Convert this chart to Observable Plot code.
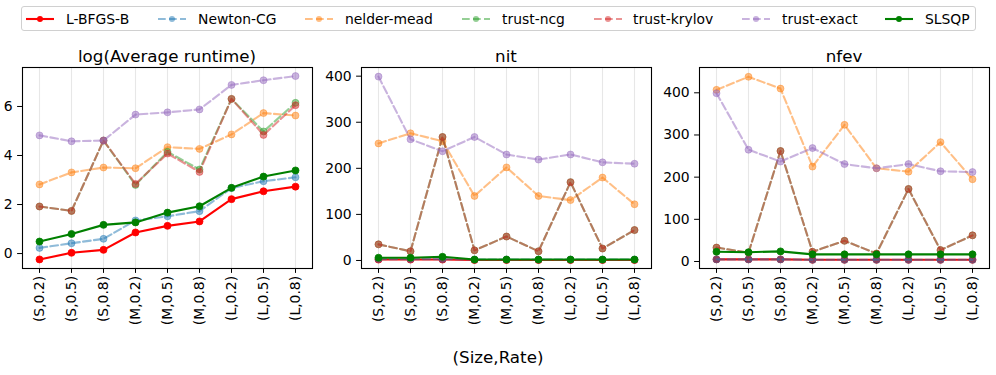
<!DOCTYPE html>
<html><head><meta charset="utf-8">
<script src="https://cdn.jsdelivr.net/npm/d3@7"></script>
<script src="https://cdn.jsdelivr.net/npm/@observablehq/plot@0.6"></script>
<style>
html,body{margin:0;padding:0;background:#fff;overflow:hidden;}
#root{position:relative;width:996px;height:375px;font-family:"DejaVu Sans",sans-serif;color:#000;}
.title{position:absolute;font-size:16.7px;line-height:20px;text-align:center;width:290px;white-space:nowrap;}
.panel{position:absolute;top:60px;}
.legend{position:absolute;left:21px;top:6px;width:953px;height:23px;border:1px solid #d0d0d0;border-radius:3px;}
.ltext{position:absolute;top:11px;font-size:13.9px;line-height:16px;white-space:nowrap;}
.lsw{position:absolute;top:13px;}
.xlabel{position:absolute;left:398px;width:200px;top:347px;font-size:16.7px;line-height:20px;text-align:center;}
</style></head><body><div id="root"></div>
<script>
const categories = ["(S,0.2)","(S,0.5)","(S,0.8)","(M,0.2)","(M,0.5)","(M,0.8)","(L,0.2)","(L,0.5)","(L,0.8)"];
const methods = ["L-BFGS-B","Newton-CG","nelder-mead","trust-ncg","trust-krylov","trust-exact","SLSQP"];
const colors = ["#ff0000","#1f77b4","#ff7f0e","#2ca02c","#d62728","#9467bd","#008000"];
const dashed = [false,true,true,true,true,true,false];
const alphas = [1,0.5,0.5,0.5,0.5,0.5,1];
const panelTitles = ["log(Average runtime)","nit","nfev"];

// rows follow the order of `methods`
const logRuntime = [
  [-0.24,0.03,0.15,0.86,1.13,1.31,2.22,2.54,2.73],
  [0.23,0.42,0.60,1.35,1.52,1.73,2.67,2.95,3.11],
  [2.82,3.31,3.51,3.48,4.34,4.27,4.86,5.73,5.63],
  [1.92,1.74,4.61,2.80,4.15,3.43,6.31,4.98,6.15],
  [1.92,1.74,4.61,2.84,4.08,3.33,6.31,4.84,6.05],
  [4.82,4.58,4.61,5.67,5.76,5.88,6.88,7.07,7.24],
  [0.49,0.80,1.17,1.27,1.67,1.93,2.68,3.14,3.39]
];
const nit = [
  [2,2,2,1,1,1,1,1,1],
  [3,3,3,2,2,2,2,2,2],
  [254,276,259,140,202,140,131,180,122],
  [35,20,268,22,52,20,170,26,66],
  [35,20,268,22,52,20,170,26,66],
  [399,263,237,268,230,219,230,213,210],
  [6,6,8,2,2,2,2,2,2]
];
const nfev = [
  [5,5,5,4,4,4,4,4,4],
  [5,5,5,4,4,4,4,4,4],
  [407,438,410,225,324,221,213,283,195],
  [33,21,262,23,49,19,172,27,62],
  [33,21,262,23,49,19,172,27,62],
  [399,265,237,269,231,221,231,214,212],
  [23,22,24,17,17,17,17,17,17]
];
const yDomains = [[-0.61,7.59],[-17.4,418.8],[-16.6,460]];
const yTicks = [[0,2,4,6],[0,100,200,300,400],[0,100,200,300,400]];
const frameLefts = [22,361,699];
const panelValues = [logRuntime, nit, nfev];

const root = document.getElementById("root");

function makePanel(values, yDomain, ticks) {
  const marks = [Plot.gridX({stroke:"#b0b0b0", strokeOpacity:0.3, strokeWidth:1.1})];
  methods.forEach((m, i) => {
    const data = categories.map((c, j) => ({cat: c, v: values[i][j]}));
    const lineOpts = {x:"cat", y:"v", stroke: colors[i], strokeWidth: 2.1, strokeOpacity: alphas[i]};
    if (dashed[i]) lineOpts.strokeDasharray = "7.7,3.3";
    marks.push(Plot.line(data, lineOpts));
    marks.push(Plot.dot(data, {x:"cat", y:"v", r:3.5, fill: colors[i], fillOpacity: alphas[i], stroke: colors[i], strokeOpacity: alphas[i], strokeWidth: 0.8}));
  });
  marks.push(Plot.frame({stroke:"#000", strokeWidth:1.1}));
  marks.push(Plot.axisY({ticks: ticks, tickSize: 4.9, tickPadding: 4.9, label: null, fontSize: 13.9}));
  marks.push(Plot.axisX({tickRotate: -90, tickSize: 4.9, tickPadding: 2.5, label: null, fontSize: 13.9}));
  return Plot.plot({
    width: 335, height: 275,
    marginLeft: 40, marginRight: 5, marginTop: 7, marginBottom: 67,
    x: {type: "point", domain: categories, padding: 0.4},
    y: {domain: yDomain},
    style: {background: "transparent", overflow: "visible", fontFamily: "DejaVu Sans", fontSize: "13.9px", color: "#000"},
    marks
  });
}

for (let p = 0; p < 3; p++) {
  const svg = makePanel(panelValues[p], yDomains[p], yTicks[p]);
  svg.classList.add("panel");
  svg.style.position = "absolute";
  svg.style.left = (frameLefts[p] - 40) + "px";
  svg.style.top = "60px";
  root.appendChild(svg);
  const t = document.createElement("div");
  t.className = "title";
  t.style.left = frameLefts[p] + "px";
  t.style.top = "45.5px";
  t.textContent = panelTitles[p];
  root.appendChild(t);
}

// legend
const legend = document.createElement("div");
legend.className = "legend";
root.appendChild(legend);
const swatchX = [25,157,304,461,593,741,884];
const textX = [65,197,344,501,632,781,924];
methods.forEach((m, i) => {
  const ns = "http://www.w3.org/2000/svg";
  const s = document.createElementNS(ns, "svg");
  s.setAttribute("width", 30); s.setAttribute("height", 12);
  s.setAttribute("class", "lsw");
  s.style.left = (swatchX[i] - 21) + "px";
  s.style.top = "5.5px";
  const l = document.createElementNS(ns, "line");
  l.setAttribute("x1", 0); l.setAttribute("x2", 28); l.setAttribute("y1", 6); l.setAttribute("y2", 6);
  l.setAttribute("stroke", colors[i]); l.setAttribute("stroke-width", 2.1);
  l.setAttribute("stroke-opacity", alphas[i]);
  if (dashed[i]) l.setAttribute("stroke-dasharray", "7.7,3.3");
  s.appendChild(l);
  const c = document.createElementNS(ns, "circle");
  c.setAttribute("cx", 14); c.setAttribute("cy", 6); c.setAttribute("r", 3);
  c.setAttribute("fill", colors[i]); c.setAttribute("fill-opacity", alphas[i]);
  s.appendChild(c);
  legend.appendChild(s);
  const t = document.createElement("div");
  t.className = "ltext";
  t.style.left = (textX[i] - 21) + "px";
  t.style.top = "4px";
  t.textContent = m;
  legend.appendChild(t);
});

const xl = document.createElement("div");
xl.className = "xlabel";
xl.textContent = "(Size,Rate)";
root.appendChild(xl);
</script>
</body></html>
